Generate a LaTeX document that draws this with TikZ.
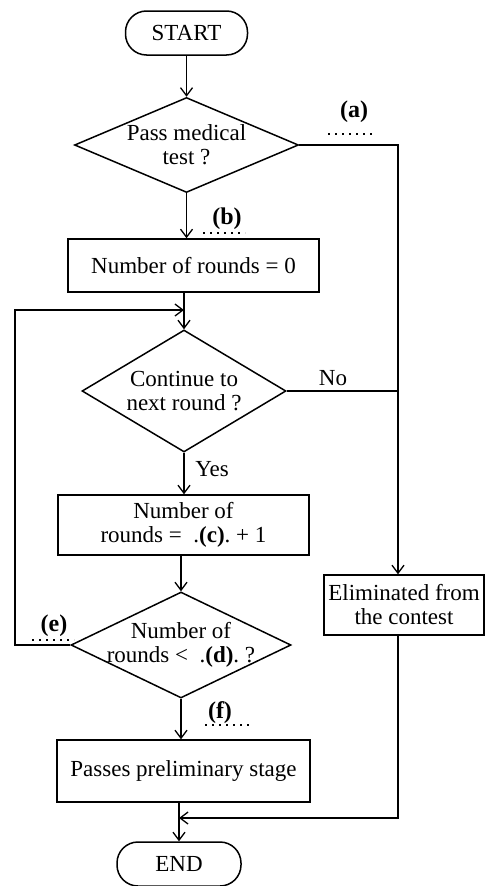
\documentclass[tikz,border=0pt]{standalone}
\usepackage{fontspec}
\setmainfont{Liberation Serif}
\usetikzlibrary{arrows.meta,shapes.geometric}
\begin{document}
\begin{tikzpicture}[x=1pt,y=-1pt,
  every node/.style={font=\fontsize{23}{24}\selectfont},
  line/.style={line width=1.5pt},
  arr/.style={line width=1.5pt,-{Straight Barb[length=8pt,width=12pt,line width=1.3pt]}},
  term/.style={draw,line width=1.5pt,rectangle,rounded corners=21pt,minimum width=#1,minimum height=44pt,inner sep=0pt},
  procbox/.style={draw,line width=1.5pt,rectangle,inner sep=0pt,align=center},
  dmd/.style={draw,line width=1.5pt,diamond,inner xsep=-80pt,inner ysep=-40pt,align=center},
  lab/.style={font=\fontsize{24}{24}\selectfont\bfseries,inner sep=0pt},
  dots/.style={line width=1.6pt,dash pattern=on 1.6pt off 5.4pt}
]
\useasboundingbox (0,0) rectangle (487,886);

% nodes
\node[term=122pt] (start) at (186.5,33) {START};
\node[dmd,minimum width=224pt,minimum height=95pt] (d1) at (186.5,145) {Pass medical\\test ?};
\node[procbox,minimum width=251pt,minimum height=53pt] (b0) at (193.5,265.5) {Number of rounds = 0};
\node[dmd,minimum width=204pt,minimum height=122pt] (d2) at (184,391) {Continue to\\next round ?};
\node[procbox,minimum width=251pt,minimum height=60pt] (b1) at (183.5,525) {Number of\\rounds = \ .\textbf{(c)}.\ + 1};
\node[dmd,minimum width=220pt,minimum height=106pt] (d3) at (181,645) {Number of\\rounds < \ .\textbf{(d)}.\ ?};
\node[procbox,minimum width=253pt,minimum height=62pt] (b2) at (183.5,771) {Passes preliminary stage};
\node[procbox,minimum width=160pt,minimum height=60pt] (elim) at (404,605) {Eliminated from\\the contest};
\node[term=124pt] (end) at (179,864) {END};

% helper coordinates
\coordinate (rx) at (398,0);
\coordinate (fbx) at (15,0);
\coordinate (j1) at (184,310);
\coordinate (j2) at (179,818);

% connectors
\draw[arr] (start) -- (d1);
\draw[arr] (d1.south) -- (d1.south |- b0.north);
\draw[arr] (b0.south -| d2.north) -- (d2.north);
\draw[arr] (d2.south) -- (d2.south |- b1.north);
\draw[arr] (b1.south -| d3.north) -- (d3.north);
\draw[arr] (d3.south) -- (d3.south |- b2.north);
\draw[arr] (b2.south -| end.north) -- (end.north);
\draw[arr] (d1.east) -- (d1.east -| rx) -- (rx |- elim.north);
\draw[line] (d2.east) -- (d2.east -| rx);
\draw[arr] (d3.west) -- (d3.west -| fbx) |- (j1);
\draw[arr] (rx |- elim.south) -- (rx |- j2) -- (j2);

% labels
\node (yes) at (212,469) {Yes};
\node (no) at (333,378) {No};
\node[lab] (la) at (354,112) {(a)};
\draw[dots] (328,134) -- (374,134);
\node[lab] (lb) at (227,219) {(b)};
\draw[dots] (203,233) -- (245,233);
\node[lab] (le) at (54,626) {(e)};
\draw[dots] (32,640) -- (74,640);
\node[lab] (lf) at (220,713) {(f)};
\draw[dots] (205,725) -- (249,725);
\end{tikzpicture}
\end{document}
